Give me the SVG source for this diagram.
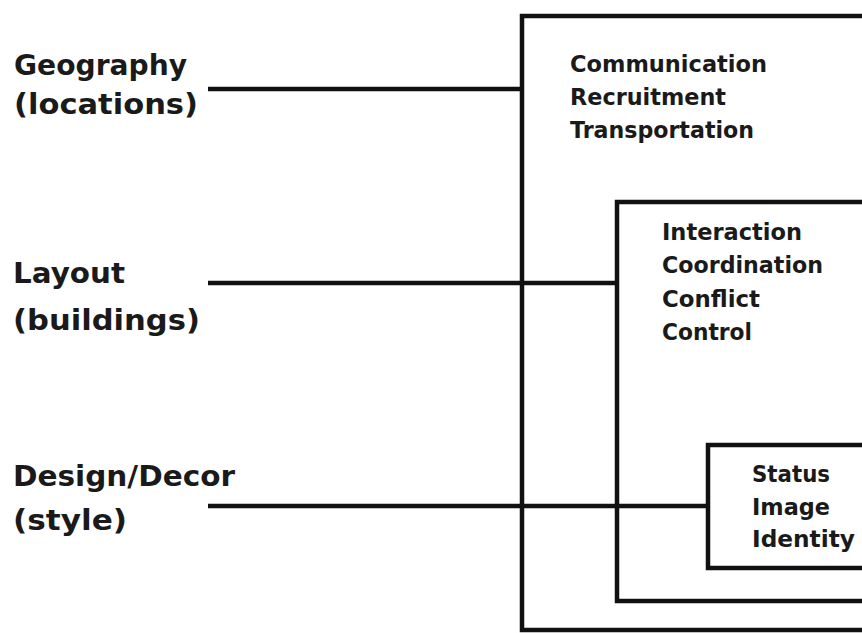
<svg xmlns="http://www.w3.org/2000/svg" width="862" height="633" viewBox="0 0 862 633">
<style>
.box{fill:none;stroke:#111;stroke-width:4.5}
.conn{stroke:#111;stroke-width:4.5;fill:none}
.lbl{font-family:"DejaVu Sans","Liberation Sans",sans-serif;font-weight:bold;font-size:28px;fill:#1a1a1a}
.item{font-family:"DejaVu Sans","Liberation Sans",sans-serif;font-weight:bold;font-size:23px;fill:#1a1a1a}
</style>
<rect width="862" height="633" fill="#fff"/>
<g id="outer">
<rect class="box" x="522" y="16" width="400" height="614"/>
<text class="item" x="570" y="72" textLength="197" lengthAdjust="spacingAndGlyphs">Communication</text>
<text class="item" x="570" y="105" textLength="156" lengthAdjust="spacingAndGlyphs">Recruitment</text>
<text class="item" x="570" y="138" textLength="184" lengthAdjust="spacingAndGlyphs">Transportation</text>
</g>
<g id="middle">
<rect class="box" x="617" y="202" width="300" height="399"/>
<text class="item" x="662" y="240" textLength="140" lengthAdjust="spacingAndGlyphs">Interaction</text>
<text class="item" x="662" y="273" textLength="161" lengthAdjust="spacingAndGlyphs">Coordination</text>
<text class="item" x="662" y="307" textLength="98" lengthAdjust="spacingAndGlyphs">Conflict</text>
<text class="item" x="662" y="340" textLength="90" lengthAdjust="spacingAndGlyphs">Control</text>
</g>
<g id="inner">
<rect class="box" x="708" y="445" width="200" height="123"/>
<text class="item" x="752" y="482" textLength="78" lengthAdjust="spacingAndGlyphs">Status</text>
<text class="item" x="752" y="515" textLength="78" lengthAdjust="spacingAndGlyphs">Image</text>
<text class="item" x="752" y="547" textLength="103" lengthAdjust="spacingAndGlyphs">Identity</text>
</g>
<g id="geography">
<text class="lbl" x="14" y="75" textLength="173" lengthAdjust="spacingAndGlyphs">Geography</text>
<text class="lbl" x="14" y="114" textLength="184" lengthAdjust="spacingAndGlyphs">(locations)</text>
</g>
<g id="layout">
<text class="lbl" x="13" y="283" textLength="112" lengthAdjust="spacingAndGlyphs">Layout</text>
<text class="lbl" x="13" y="330" textLength="187" lengthAdjust="spacingAndGlyphs">(buildings)</text>
</g>
<g id="design">
<text class="lbl" x="13" y="486" textLength="222" lengthAdjust="spacingAndGlyphs">Design/Decor</text>
<text class="lbl" x="13" y="530" textLength="114" lengthAdjust="spacingAndGlyphs">(style)</text>
</g>
<g id="connectors">
<line class="conn" x1="208" y1="89" x2="522" y2="89"/>
<line class="conn" x1="208" y1="283" x2="617" y2="283"/>
<line class="conn" x1="208" y1="506" x2="708" y2="506"/>
</g>
</svg>
